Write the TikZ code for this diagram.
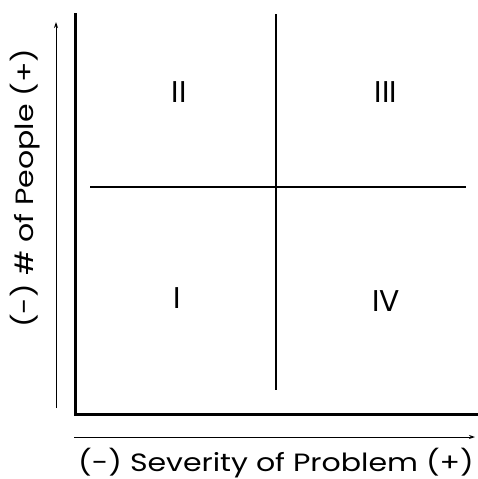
\documentclass[tikz,border=0pt]{standalone}
\usepackage{fontspec}
\setmainfont{Poppins}
\newfontfamily\widefont[FakeStretch=1.2]{Poppins}
\usetikzlibrary{arrows.meta}
\begin{document}
\begin{tikzpicture}[x=1pt,y=-1pt,
  axis/.style={line width=3pt,line cap=rect},
  divider/.style={line width=1.8pt},
  thinarrow/.style={line width=1pt,-{Stealth[length=6pt,width=4pt]}},
  quad/.style={font=\fontsize{30}{30}\selectfont,inner sep=0pt},
  axlabel/.style={font=\widefont\fontsize{25}{25}\selectfont,inner sep=0pt}]
\useasboundingbox (0,0) rectangle (477,479);
\coordinate (origin) at (75,414);
\coordinate (ytop) at (75,14);
\coordinate (xend) at (477,414);
\draw[axis] (ytop) -- (origin) -- (xend);
\coordinate (hl) at (90,187);
\coordinate (hr) at (466,187);
\coordinate (vt) at (276,14);
\coordinate (vb) at (276,390);
\draw[divider] (hl) -- (hr);
\draw[divider] (vt) -- (vb);
\coordinate (ya0) at (56,408);
\coordinate (ya1) at (56,22);
\draw[thinarrow] (ya0) -- (ya1);
\coordinate (xa0) at (74,437);
\coordinate (xa1) at (475,437);
\draw[thinarrow] (xa0) -- (xa1);
\node[quad] (q2) at (179,92) {II};
\node[quad] (q3) at (386,92) {III};
\node[quad] (q1) at (177,298) {I};
\node[quad] (q4) at (386,301) {IV};
\node[axlabel] (xl) at (276,463) {(-) Severity of Problem (+)};
\node[axlabel,rotate=90] (yl) at (25,188) {(-) \# of People (+)};
\end{tikzpicture}
\end{document}
